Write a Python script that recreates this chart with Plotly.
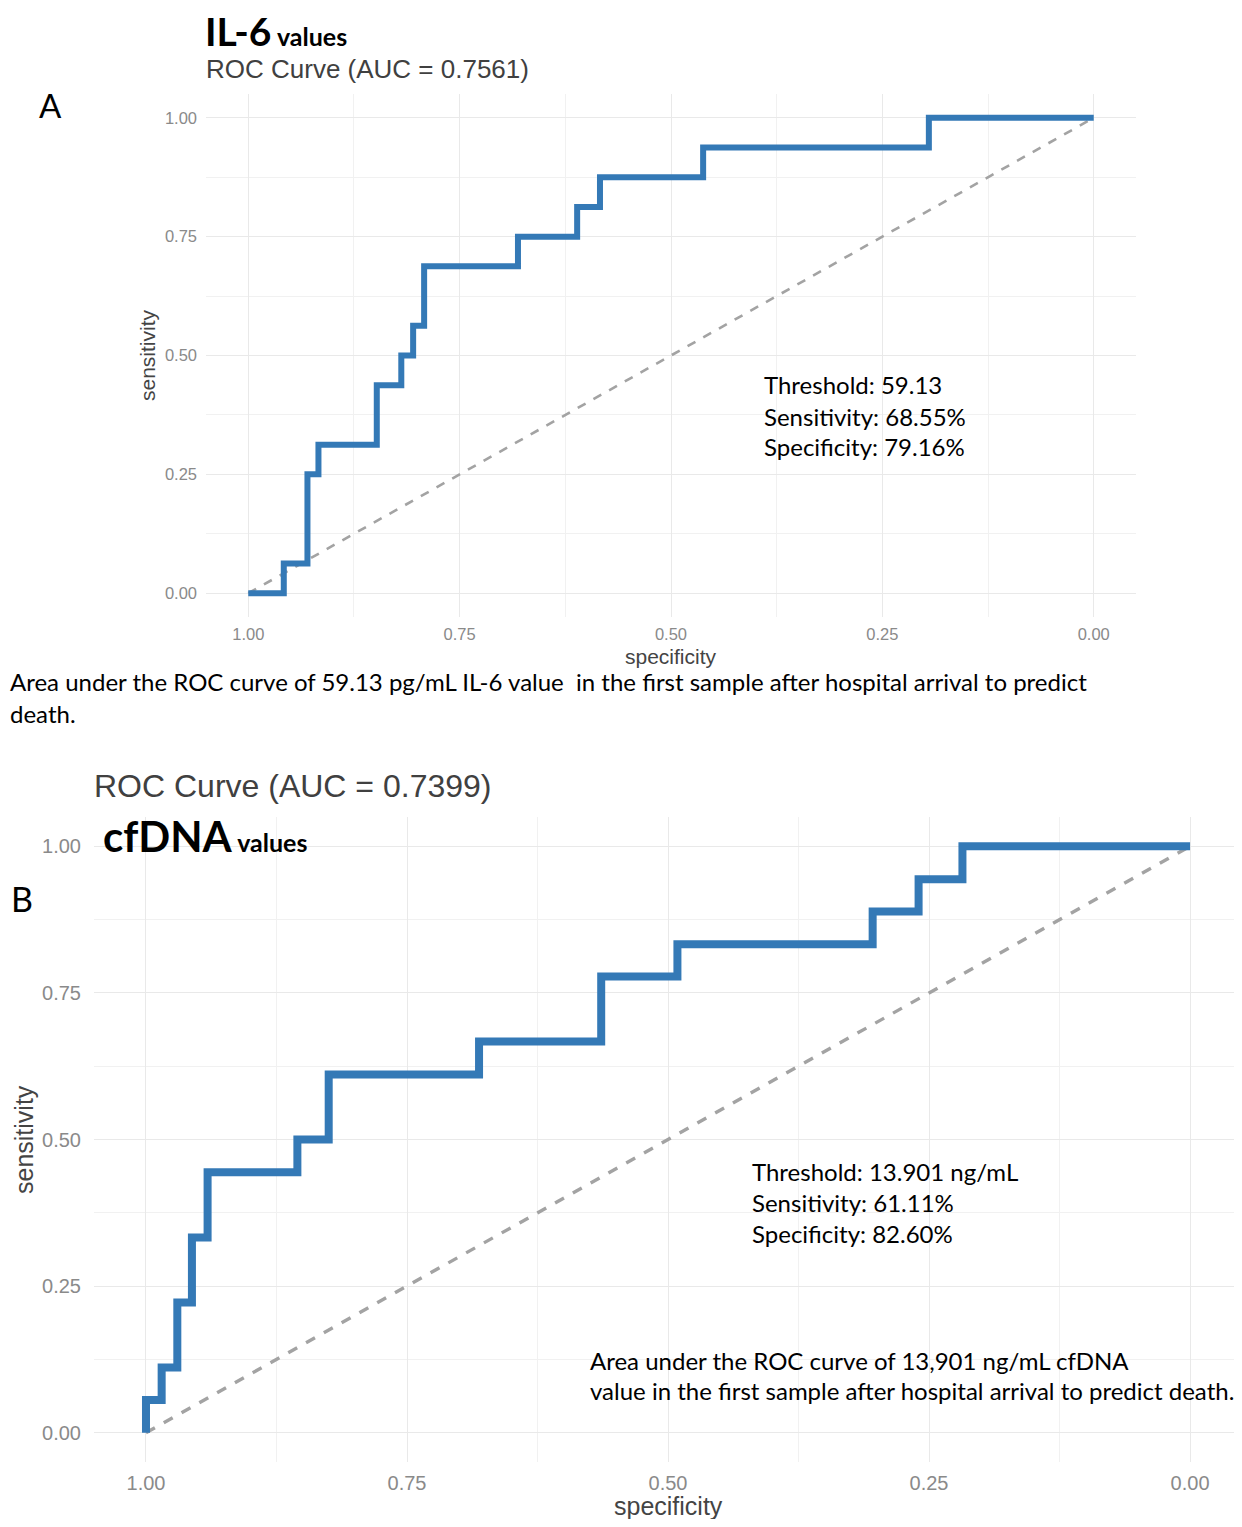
import plotly.graph_objects as go

# The page body has an 8px margin, so the figure is sized to fit inside it.
OFF = 8
W, H = 1242 - 2 * OFF, 1527 - 2 * OFF

# ---- Panel A: IL-6 ROC (specificity, sensitivity at each step corner) ----
il6_spec = [1.0, 0.958, 0.930, 0.917, 0.848, 0.819, 0.805, 0.792, 0.681, 0.611, 0.584, 0.462, 0.195, 0.0]
il6_sens = [0.0, 0.0625, 0.25, 0.3125, 0.4375, 0.5, 0.5625, 0.6875, 0.75, 0.8125, 0.875, 0.9375, 1.0, 1.0]

# ---- Panel B: cfDNA ROC ----
cf_spec = [1.0, 1.0, 0.985, 0.970, 0.956, 0.941, 0.855, 0.825, 0.681, 0.564, 0.491, 0.304, 0.260, 0.218, 0.0]
cf_sens = [0.0, 0.0556, 0.111, 0.222, 0.333, 0.444, 0.5, 0.611, 0.667, 0.778, 0.833, 0.889, 0.944, 1.0, 1.0]

diag = [1.0, 0.0]
diag_sens = [0.0, 1.0]

tick_vals = [0.0, 0.25, 0.5, 0.75, 1.0]
tick_text = ["0.00", "0.25", "0.50", "0.75", "1.00"]

BLUE = "#3479b6"
DASH = "#a3a3a3"
GRID = "#e9e9e9"
MINOR = "#f1f1f1"
TICKC = "#8a8a8a"
TXT_FONT = "Lato"
AX_FONT = "Liberation Sans"

def px(x):
    return min(max((x - OFF) / W, 0), 1)

def py(y):
    return min(max(1 - (y - OFF) / H, 0), 1)

fig = go.Figure()

fig.add_trace(go.Scatter(x=diag, y=diag_sens, mode="lines", xaxis="x", yaxis="y",
                         line=dict(color=DASH, width=2.6, dash="dash"), showlegend=False))
fig.add_trace(go.Scatter(x=il6_spec, y=il6_sens, mode="lines", line_shape="hv", xaxis="x", yaxis="y",
                         line=dict(color=BLUE, width=6), showlegend=False))
fig.add_trace(go.Scatter(x=diag, y=diag_sens, mode="lines", xaxis="x2", yaxis="y2",
                         line=dict(color=DASH, width=3.4, dash="dash"), showlegend=False))
fig.add_trace(go.Scatter(x=cf_spec, y=cf_sens, mode="lines", line_shape="hv", xaxis="x2", yaxis="y2",
                         line=dict(color=BLUE, width=8), showlegend=False))

def axis(domain, rng, size, standoff, anchor):
    return dict(domain=domain, range=rng, tickvals=tick_vals, ticktext=tick_text,
                showgrid=True, gridcolor=GRID, gridwidth=1.3, zeroline=False, showline=False,
                ticks="", tickfont=dict(family=AX_FONT, size=size, color=TICKC),
                ticklabelstandoff=standoff, anchor=anchor, fixedrange=True,
                minor=dict(dtick=0.125, tick0=0, showgrid=True, gridcolor=MINOR, gridwidth=0.8))

fig.update_layout(
    width=W, height=H, margin=dict(l=0, r=0, t=0, b=0),
    paper_bgcolor="white", plot_bgcolor="white",
    xaxis=axis([px(206), px(1136)], [1.05, -0.05], 16.5, 5, "y"),
    yaxis=axis([py(617), py(94)], [-0.05, 1.05], 16.5, 8, "x"),
    xaxis2=axis([px(94), px(1234)], [1.0498, -0.0421], 20, 7, "y2"),
    yaxis2=axis([py(1462), py(817)], [-0.05, 1.05], 20, 12, "x2"),
)

ann = []
def add(text, x, y, size, family=TXT_FONT, color="black", xanchor="left", angle=0):
    ann.append(dict(text=text, x=px(x), y=py(y), xref="paper", yref="paper", xanchor=xanchor,
                    yanchor="middle", showarrow=False, textangle=angle,
                    font=dict(family=family, size=size, color=color)))

# Panel A texts
add("<b>IL-6<span style='font-size:25px'> values</span></b>", 203, 31, 39)
add("ROC Curve (AUC = 0.7561)", 204, 69, 26, family=AX_FONT, color="#404040")
add("A", 37, 105, 33)
add("sensitivity", 147, 355, 21, family=AX_FONT, color="#444444", xanchor="center", angle=-90)
add("specificity", 671, 656, 21, family=AX_FONT, color="#444444", xanchor="center")
add("Threshold: 59.13", 762, 385, 24)
add("Sensitivity: 68.55%", 762, 416, 24)
add("Specificity: 79.16%", 762, 447, 24)
add("Area under the ROC curve of 59.13 pg/mL IL-6 value  in the first sample after hospital arrival to predict", 6, 682, 24)
add("death.", 6, 713, 24)

# Panel B texts
add("ROC Curve (AUC = 0.7399)", 92, 786, 32, family=AX_FONT, color="#404040")
add("<b>cfDNA<span style='font-size:25px'> values</span></b>", 101, 836, 42)
add("B", 9, 898, 34)
add("sensitivity", 24, 1140, 25, family=AX_FONT, color="#444444", xanchor="center", angle=-90)
add("specificity", 668, 1506, 25, family=AX_FONT, color="#444444", xanchor="center")
add("Threshold: 13.901 ng/mL", 750, 1171, 24)
add("Sensitivity: 61.11%", 750, 1202, 24)
add("Specificity: 82.60%", 750, 1233, 24)
add("Area under the ROC curve of 13,901 ng/mL cfDNA", 588, 1360, 24)
add("value in the first sample after hospital arrival to predict death.", 588, 1390, 24)

fig.update_layout(annotations=ann)
fig.write_html("out.html")
